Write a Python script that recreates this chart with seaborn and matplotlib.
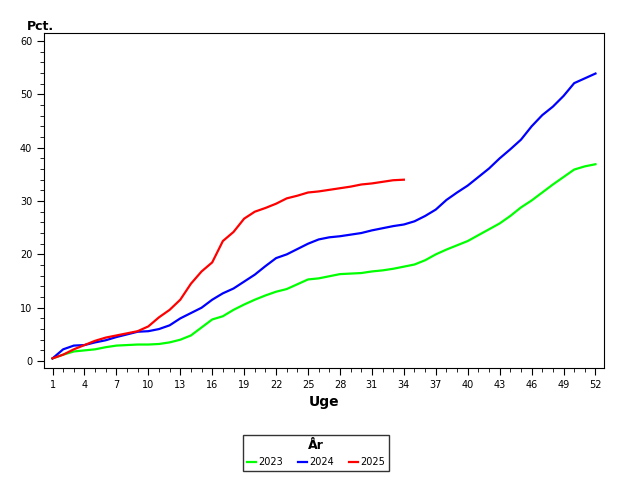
import matplotlib
matplotlib.use("Agg")
import matplotlib.pyplot as plt
import seaborn as sns
import pandas as pd
from matplotlib.ticker import MultipleLocator

weeks = list(range(1, 53))
y2023 = [0.5,1.2,1.8,2.0,2.2,2.6,2.9,3.0,3.1,3.1,3.2,3.5,4.0,4.8,6.3,7.8,8.4,9.6,10.6,11.5,12.3,13.0,13.5,14.4,15.3,15.5,15.9,16.3,16.4,16.5,16.8,17.0,17.3,17.7,18.1,18.9,20.0,20.9,21.7,22.5,23.6,24.7,25.8,27.2,28.8,30.1,31.6,33.1,34.5,35.9,36.5,36.9]
y2024 = [0.5,2.2,2.9,3.0,3.5,3.9,4.5,5.0,5.5,5.6,6.0,6.7,8.0,9.0,10.0,11.5,12.7,13.6,14.9,16.2,17.8,19.3,20.0,21.0,22.0,22.8,23.2,23.4,23.7,24.0,24.5,24.9,25.3,25.6,26.2,27.2,28.4,30.2,31.6,32.9,34.5,36.1,38.0,39.7,41.5,44.0,46.1,47.7,49.7,52.1,53.0,53.9]
y2025 = [0.5,1.2,2.2,3.0,3.8,4.4,4.8,5.2,5.6,6.5,8.2,9.6,11.5,14.5,16.8,18.5,22.5,24.2,26.7,28.0,28.7,29.5,30.5,31.0,31.6,31.8,32.1,32.4,32.7,33.1,33.3,33.6,33.9,34.0]
xticks = list(range(1, 53, 3))

df = pd.concat([
    pd.DataFrame({"Uge": weeks, "Pct": y2023, "År": "2023"}),
    pd.DataFrame({"Uge": weeks, "Pct": y2024, "År": "2024"}),
    pd.DataFrame({"Uge": weeks[:len(y2025)], "Pct": y2025, "År": "2025"}),
])

fig = plt.figure(figsize=(6.4, 4.8), dpi=100)
ax = fig.add_axes([44/640, 1-368/480, 560/480*480/640, 335/480])
sns.lineplot(data=df, x="Uge", y="Pct", hue="År", ax=ax, linewidth=1.6,
             palette={"2023": "#00ff00", "2024": "#0000ff", "2025": "#ff0000"})
ax.set_xlim(0.2, 52.8)
ax.set_ylim(-1.3, 61.5)
ax.set_xticks(xticks)
ax.xaxis.set_minor_locator(MultipleLocator(1))
ax.set_yticks(range(0, 61, 10))
ax.yaxis.set_minor_locator(MultipleLocator(2))
ax.tick_params(labelsize=7, length=5)
ax.tick_params(which="minor", length=3)
ax.set_ylabel("")
ax.set_xlabel("Uge", fontsize=10, fontweight="bold")
ax.text(-0.03, 1.0, "Pct.", transform=ax.transAxes, fontsize=9, fontweight="bold", ha="left", va="bottom")
ax.legend_.remove()
h, l = ax.get_legend_handles_labels()
leg = fig.legend(h, l, title="År", ncol=3, loc="center", bbox_to_anchor=(316/640, 1-453/480),
                 fontsize=7, frameon=True, fancybox=False, edgecolor="black",
                 handlelength=1.0, handletextpad=0.2, columnspacing=1.5,
                 title_fontproperties={"weight": "bold", "size": 9})
leg.get_frame().set_linewidth(1)
fig.savefig("out.png", dpi=100)
